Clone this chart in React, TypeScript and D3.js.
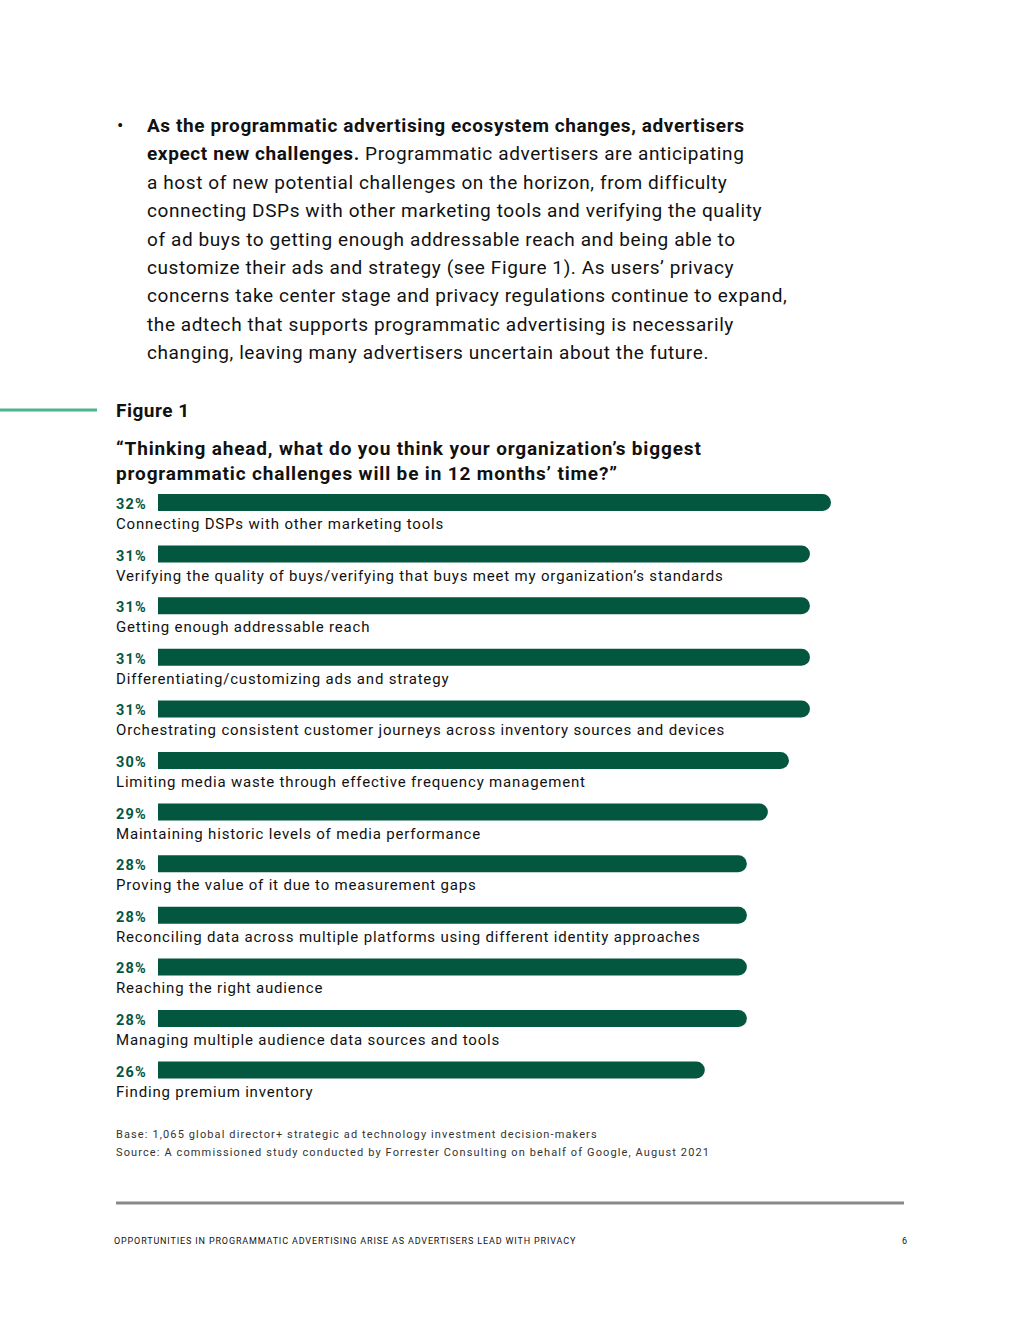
import React from "react";
import * as d3 from "d3";

const categories: string[] = [
  "Connecting DSPs with other marketing tools",
  "Verifying the quality of buys/verifying that buys meet my organization’s standards",
  "Getting enough addressable reach",
  "Differentiating/customizing ads and strategy",
  "Orchestrating consistent customer journeys across inventory sources and devices",
  "Limiting media waste through effective frequency management",
  "Maintaining historic levels of media performance",
  "Proving the value of it due to measurement gaps",
  "Reconciling data across multiple platforms using different identity approaches",
  "Reaching the right audience",
  "Managing multiple audience data sources and tools",
  "Finding premium inventory",
];
const values: number[] = [32, 31, 31, 31, 31, 30, 29, 28, 28, 28, 28, 26];

const bodyLines: { bold: string; normal: string }[] = [
  { bold: "As the programmatic advertising ecosystem changes, advertisers", normal: "" },
  { bold: "expect new challenges.", normal: " Programmatic advertisers are anticipating" },
  { bold: "", normal: "a host of new potential challenges on the horizon, from difficulty" },
  { bold: "", normal: "connecting DSPs with other marketing tools and verifying the quality" },
  { bold: "", normal: "of ad buys to getting enough addressable reach and being able to" },
  { bold: "", normal: "customize their ads and strategy (see Figure 1). As users’ privacy" },
  { bold: "", normal: "concerns take center stage and privacy regulations continue to expand," },
  { bold: "", normal: "the adtech that supports programmatic advertising is necessarily" },
  { bold: "", normal: "changing, leaving many advertisers uncertain about the future." },
];

const titleLines: string[] = [
  "“Thinking ahead, what do you think your organization’s biggest",
  "programmatic challenges will be in 12 months’ time?”",
];
const notes: string[] = [
  "Base: 1,065 global director+ strategic ad technology investment decision-makers",
  "Source: A commissioned study conducted by Forrester Consulting on behalf of Google, August 2021",
];
const footerText = "OPPORTUNITIES IN PROGRAMMATIC ADVERTISING ARISE AS ADVERTISERS LEAD WITH PRIVACY";
const pageNumber = "6";

const W = 1020;
const H = 1320;
const GREEN = "#04573f";
const FONT = "Roboto, 'Liberation Sans', sans-serif";

export default function App() {
  const x = d3.scaleLinear().domain([0, 32]).range([158, 831]);
  const y = d3.scaleBand<number>().domain(d3.range(categories.length)).range([494, 494 + 51.6 * 12]).paddingInner(0);
  const barH = 17;
  const r = barH / 2;

  const barPath = (v: number, top: number) => {
    const x0 = x(0);
    const x1 = x(v);
    const p = d3.path();
    p.moveTo(x0, top);
    p.lineTo(x1 - r, top);
    p.arc(x1 - r, top + r, r, -Math.PI / 2, Math.PI / 2);
    p.lineTo(x0, top + barH);
    p.closePath();
    return p.toString();
  };

  return (
    <svg width={W} height={H} style={{ position: "absolute", left: 0, top: 0, background: "#fff" }} fontFamily={FONT}>
      <rect width={W} height={H} fill="#fff" />
      {/* body text */}
      <text x={117} y={132} fontSize={19} fill="#111">•</text>
      {bodyLines.map((l, i) => (
        <text key={i} x={147} y={132 + i * 28.4} fontSize={19} fill="#111" letterSpacing={0.6}>
          {l.bold && <tspan fontWeight={700}>{l.bold}</tspan>}
          {l.normal && <tspan>{l.normal}</tspan>}
        </text>
      ))}
      {/* figure header */}
      <line x1={0} x2={97} y1={410} y2={410} stroke="#4cb38b" strokeWidth={3} />
      <text x={116} y={417} fontSize={19} fontWeight={700} fill="#111" letterSpacing={0.5}>Figure 1</text>
      {titleLines.map((t, i) => (
        <text key={i} x={116} y={455 + i * 25} fontSize={19} fontWeight={700} fill="#111" letterSpacing={0.85}>{t}</text>
      ))}
      {/* bars */}
      {values.map((v, i) => {
        const top = (y(i) as number);
        return (
          <g key={i}>
            <path d={barPath(v, top)} fill={GREEN} />
            <text x={116} y={top + 15} fontSize={14.5} fontWeight={700} fill={GREEN} letterSpacing={1.2}>{v}%</text>
            <text x={116} y={top + 35} fontSize={15} fill="#111" letterSpacing={0.82}>{categories[i]}</text>
          </g>
        );
      })}
      {/* notes */}
      {notes.map((n, i) => (
        <text key={i} x={116} y={1138 + i * 18} fontSize={11} fill="#333" letterSpacing={1.12}>{n}</text>
      ))}
      <line x1={116} x2={904} y1={1203} y2={1203} stroke="#888" strokeWidth={3} />
      <text x={114} y={1244} fontSize={9} fill="#111" letterSpacing={0.85}>{footerText}</text>
      <text x={907} y={1244} fontSize={9} fill="#111" textAnchor="end">{pageNumber}</text>
    </svg>
  );
}
